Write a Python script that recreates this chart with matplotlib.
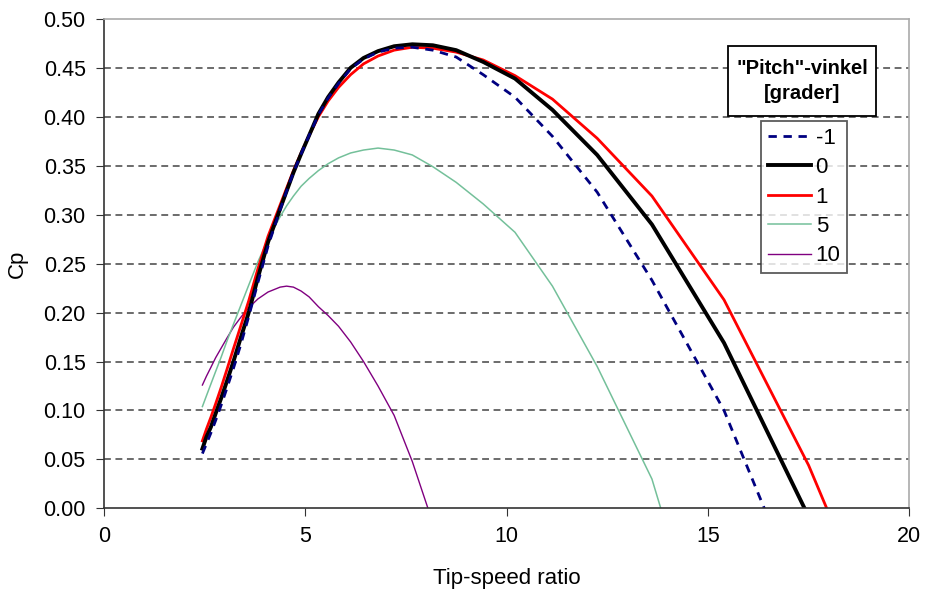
import matplotlib
matplotlib.use("Agg")
import matplotlib.pyplot as plt
from matplotlib.patches import Rectangle

plt.rcParams['font.family'] = ['Liberation Sans', 'DejaVu Sans']

# tip-speed ratios of the data points (same for every pitch angle)
tsr = [2.45, 2.55, 2.66, 2.78, 2.92, 3.06, 3.22, 3.40, 3.60, 3.83, 4.08, 4.38,
       4.54, 4.71, 4.90, 5.10, 5.33, 5.57, 5.83, 6.13, 6.45, 6.81, 7.21, 7.66,
       8.17, 8.75, 9.42, 10.21, 11.14, 12.25, 13.61, 15.40, 17.50]

cp_m1 = [0.056, 0.066, 0.077, 0.090, 0.106, 0.123, 0.143, 0.167, 0.196, 0.231,
         0.268, 0.305, 0.324, 0.343, 0.362, 0.381, 0.402, 0.419, 0.434, 0.449,
         0.459, 0.466, 0.470, 0.471, 0.468, 0.461, 0.443, 0.420, 0.380, 0.323,
         0.233, 0.100]
cp_0 = [0.061, 0.073, 0.083, 0.097, 0.113, 0.130, 0.150, 0.174, 0.200, 0.236,
        0.272, 0.306, 0.324, 0.343, 0.362, 0.381, 0.403, 0.420, 0.435, 0.450,
        0.460, 0.467, 0.472, 0.474, 0.473, 0.468, 0.456, 0.439, 0.407, 0.361,
        0.290, 0.169]
cp_1 = [0.069, 0.081, 0.093, 0.107, 0.124, 0.142, 0.163, 0.186, 0.212, 0.245,
        0.278, 0.310, 0.327, 0.345, 0.363, 0.381, 0.400, 0.416, 0.430, 0.443,
        0.454, 0.462, 0.468, 0.471, 0.470, 0.466, 0.458, 0.442, 0.418, 0.378,
        0.319, 0.213, 0.044]
cp_5 = [0.104, 0.115, 0.127, 0.140, 0.155, 0.171, 0.188, 0.207, 0.228, 0.252,
        0.275, 0.298, 0.309, 0.319, 0.329, 0.337, 0.345, 0.352, 0.358, 0.363,
        0.366, 0.368, 0.366, 0.361, 0.349, 0.333, 0.311, 0.282, 0.227, 0.145,
        0.030]
cp_10 = [0.126, 0.135, 0.144, 0.154, 0.164, 0.174, 0.185, 0.195, 0.205, 0.214,
         0.221, 0.226, 0.227, 0.226, 0.222, 0.216, 0.206, 0.197, 0.186, 0.170,
         0.150, 0.125, 0.095, 0.048]

# tip-speed ratio where each curve reaches Cp = 0
end_m1 = 16.40
end_0 = 17.40
end_1 = 17.95
end_5 = 13.83
end_10 = 8.05

fig = plt.figure(figsize=(9.26, 5.92), dpi=100)
ax = fig.add_axes([0.112, 0.1412, 0.870, 0.827])

ax.plot(tsr[:len(cp_10)] + [end_10], cp_10 + [0.0], color='#800080', lw=1.0, label='10')
ax.plot(tsr[:len(cp_5)] + [end_5], cp_5 + [0.0], color='#74c09a', lw=1.1, label='5')
ax.plot(tsr[:len(cp_1)] + [end_1], cp_1 + [0.0], color='#ff0000', lw=2.0, label='1')
ax.plot(tsr[:len(cp_0)] + [end_0], cp_0 + [0.0], color='black', lw=2.8, label='0')
ax.plot(tsr[:len(cp_m1)] + [end_m1], cp_m1 + [0.0], color='#000080', lw=2.0,
        dashes=(3, 2.4), label='-1')

ax.set_xlim(0, 20)
ax.set_ylim(0, 0.5)
ax.set_xticks([0, 5, 10, 15, 20])
ax.set_yticks([i * 0.05 for i in range(11)])
ax.set_yticklabels(['%.2f' % (i * 0.05) for i in range(11)])
ax.tick_params(labelsize=15.5, direction='out', length=6, color='#333333', pad=7)

for v in [i * 0.05 for i in range(1, 10)]:
    ax.axhline(v, color='#444444', lw=1.1, dashes=(4.5, 3), zorder=0)

for s in ['left', 'bottom']:
    ax.spines[s].set_color('#333333')
    ax.spines[s].set_linewidth(1.2)
for s in ['top', 'right']:
    ax.spines[s].set_color('#aaaaaa')
    ax.spines[s].set_linewidth(1.2)

ax.set_xlabel('Tip-speed ratio', fontsize=16, labelpad=15)
ax.set_ylabel('Cp', fontsize=16, labelpad=11)

# legend, ordered as in the reference
h, l = ax.get_legend_handles_labels()
order = [4, 3, 2, 1, 0]
leg = fig.legend([h[i] for i in order], [l[i] for i in order],
                 loc='upper left', bbox_to_anchor=(0.822, 0.7956),
                 fontsize=16, frameon=True, fancybox=False,
                 handlelength=1.95, handletextpad=0.2, labelspacing=0.38,
                 borderpad=0.3, borderaxespad=0)
leg.get_frame().set_edgecolor('#333333')
leg.get_frame().set_linewidth(1.3)

# title box of the legend
fig.patches.append(Rectangle((728 / 926, 1 - 116 / 592), 148 / 926, 70 / 592,
                             transform=fig.transFigure, facecolor='white',
                             edgecolor='black', lw=1.3, zorder=5))
fig.text(802 / 926, 1 - 81 / 592, '"Pitch"-vinkel\n[grader]', ha='center',
         va='center', fontsize=14.5, fontweight='bold', linespacing=1.35,
         zorder=6)

fig.savefig('out.png', dpi=100)
